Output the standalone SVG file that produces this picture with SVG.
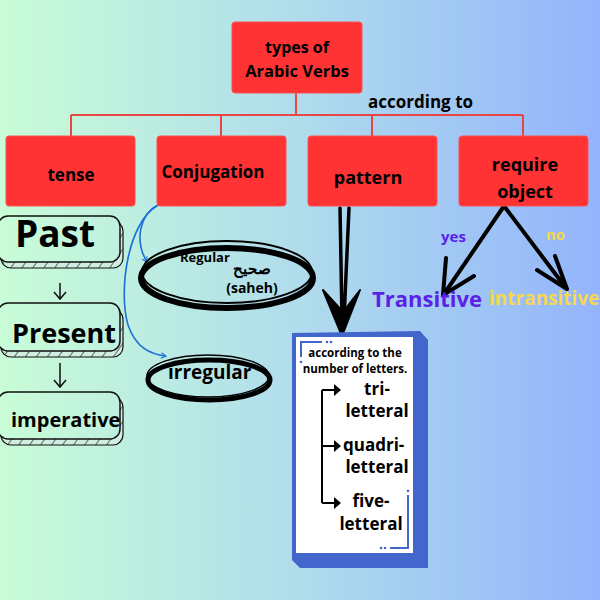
<svg xmlns="http://www.w3.org/2000/svg" width="600" height="600" viewBox="0 0 600 600">
<defs>
<linearGradient id="bg" gradientUnits="userSpaceOnUse" x1="0" y1="0" x2="600" y2="0">
<stop offset="0" stop-color="#c9fdd7"/>
<stop offset="0.5" stop-color="#b0dcec"/>
<stop offset="1" stop-color="#93b4fc"/>
</linearGradient>
<pattern id="hatch" patternUnits="userSpaceOnUse" width="9" height="9" patternTransform="rotate(35)">
<rect width="9" height="9" fill="#d0eee0"/>
<line x1="0" y1="0" x2="0" y2="9" stroke="#222" stroke-width="1.3"/>
</pattern>
<marker id="bl" viewBox="0 0 10 10" refX="8" refY="5" markerWidth="7" markerHeight="7" orient="auto" markerUnits="userSpaceOnUse">
<path d="M1,1 L8,5 L1,9" fill="none" stroke="#1a6fd8" stroke-width="1.5"/>
</marker>
</defs>
<style>
.red{fill:#ff3333;stroke:#ff5050;stroke-width:1}
.rl{fill:none;stroke:#e84545;stroke-width:2}
.t{font-family:"Open Sans","Liberation Sans",sans-serif;font-weight:700;fill:#000}
.c{text-anchor:middle}
.tb{fill:url(#bg);stroke:#111;stroke-width:1.5}
.sh{fill:url(#hatch);stroke:#111;stroke-width:1.2}
.sk{fill:none;stroke:#000;stroke-width:4;stroke-linecap:round;stroke-linejoin:round}
</style>
<rect width="600" height="600" fill="url(#bg)"/>

<g id="connectors">
<path class="rl" d="M296,93 V115 M71,115 H523 M71,115 V136 M221,115 V136 M372,115 V136 M523,115 V136"/>
<path d="M60,283 V299 M54,292 L60,299 L66,292" fill="none" stroke="#111" stroke-width="1.5"/>
<path d="M60,363 V387 M54,380 L60,387 L66,380" fill="none" stroke="#111" stroke-width="1.5"/>
<path d="M158,205 C140,214 134,240 147,262" fill="none" stroke="#1a6fd8" stroke-width="1.6" marker-end="url(#bl)"/>
<path d="M158,205 C128,222 118,290 128,325 C136,348 150,354 166,356" fill="none" stroke="#1a6fd8" stroke-width="1.6" marker-end="url(#bl)"/>
<path class="sk" d="M340,208 L342,320 M349,208 L344,320" style="stroke-width:3.5"/>
<path d="M323,290 L342,336 L360,290 L343,312 Z" fill="#000" stroke="#000" stroke-width="2" stroke-linejoin="round"/>
<path class="sk" d="M504,206 L444,294 M446,258 L443,295 L474,276"/>
<path class="sk" d="M504,206 L566,288 M555,256 L567,289 L537,270"/>
</g>

<g id="n-root"><rect class="red" x="232" y="22" width="130" height="71" rx="3"/>
<text class="t c" x="297" y="53" font-size="16">types of</text>
<text class="t c" x="297" y="77" font-size="16.5">Arabic Verbs</text></g>
<text id="l-according" class="t" x="368" y="108" font-size="17">according to</text>

<g id="n-tense"><rect class="red" x="6" y="136" width="129" height="70" rx="3"/>
<text class="t c" x="71" y="181" font-size="17">tense</text></g>
<g id="n-conj"><rect class="red" x="157" y="136" width="129" height="70" rx="3"/>
<text class="t c" x="213" y="178" font-size="17">Conjugation</text></g>
<g id="n-pattern"><rect class="red" x="308" y="136" width="129" height="70" rx="3"/>
<text class="t c" x="368" y="184" font-size="18">pattern</text></g>
<g id="n-require"><rect class="red" x="459" y="136" width="129" height="70" rx="3"/>
<text class="t c" x="525" y="171" font-size="18">require</text>
<text class="t c" x="525" y="198" font-size="18">object</text></g>

<g id="n-past"><rect class="sh" x="1" y="221" width="122" height="47" rx="10"/>
<rect class="tb" x="-2" y="216" width="122" height="46" rx="10"/>
<text class="t" x="15" y="247" font-size="37">Past</text></g>
<g id="n-present"><rect class="sh" x="1" y="309" width="122" height="48" rx="10"/>
<rect class="tb" x="-2" y="303" width="122" height="48" rx="10"/>
<text class="t" x="12" y="343" font-size="27">Present</text></g>
<g id="n-imperative"><rect class="sh" x="1" y="397" width="122" height="48" rx="10"/>
<rect class="tb" x="-2" y="392" width="122" height="47" rx="10"/>
<text class="t" x="11" y="427" font-size="20">imperative</text></g>

<g id="n-regular"><ellipse cx="227" cy="278" rx="86" ry="30" fill="none" stroke="#000" stroke-width="6"/>
<ellipse cx="227" cy="272" rx="85" ry="31" fill="none" stroke="#000" stroke-width="2"/>
<text class="t" x="180" y="262" font-size="13" font-weight="600">Regular</text>
<text class="t" x="252" y="274" font-size="15" text-anchor="middle" font-family="'DejaVu Sans',sans-serif">صحيح</text>
<text class="t c" x="252" y="293" font-size="14" font-weight="600">(saheh)</text></g>
<g id="n-irregular"><ellipse cx="209" cy="380" rx="61" ry="20" fill="none" stroke="#000" stroke-width="5"/>
<ellipse cx="208" cy="376" rx="61" ry="21" fill="none" stroke="#000" stroke-width="1.5"/>
<text class="t" x="168" y="379" font-size="19" font-weight="600">irregular</text></g>

<g id="n-transitive"><text class="t" x="441" y="242" font-size="15" style="fill:#5a22e6">yes</text>
<text class="t" x="372" y="307" font-size="22" style="fill:#5a22e6">Transitive</text></g>
<g id="n-intransitive"><text class="t" x="546" y="240" font-size="15" style="fill:#f7d84a">no</text>
<text class="t" x="489" y="305" font-size="19" style="fill:#f7d84a">intransitive</text></g>

<g id="n-letters">
<path d="M292,333 L420,331 L428,340 L428,568 L300,568 L292,560 Z" fill="#4266cc"/>
<rect x="296" y="337" width="117" height="216" fill="#fff"/>
<path d="M301,357 V342 H322" fill="none" stroke="#4266cc" stroke-width="2"/>
<circle cx="327" cy="342" r="1.3" fill="#4266cc"/><circle cx="331" cy="342" r="1.3" fill="#4266cc"/><circle cx="301" cy="362" r="1.3" fill="#4266cc"/>
<path d="M408,495 V548 H390" fill="none" stroke="#4266cc" stroke-width="2"/>
<circle cx="385" cy="548" r="1.3" fill="#4266cc"/><circle cx="381" cy="548" r="1.3" fill="#4266cc"/><circle cx="408" cy="491" r="1.3" fill="#4266cc"/>
<text class="t c" x="355" y="357" font-size="11.5" font-weight="600">according to the</text>
<text class="t c" x="355" y="373" font-size="11.5" font-weight="600">number of letters.</text>
<path d="M322,390 V503 M322,390 H336 M322,446 H336 M322,503 H336" fill="none" stroke="#000" stroke-width="2"/>
<path d="M334,384 L341,390 L334,396 Z M334,440 L341,446 L334,452 Z M334,497 L341,503 L334,509 Z" fill="#000"/>
<text class="t c" x="377" y="395" font-size="17">tri-</text>
<text class="t c" x="377" y="417" font-size="17">letteral</text>
<text class="t" x="343" y="451" font-size="17">quadri-</text>
<text class="t c" x="377" y="473" font-size="17">letteral</text>
<text class="t c" x="371" y="507" font-size="17">five-</text>
<text class="t c" x="371" y="530" font-size="17">letteral</text>
</g>
</svg>
